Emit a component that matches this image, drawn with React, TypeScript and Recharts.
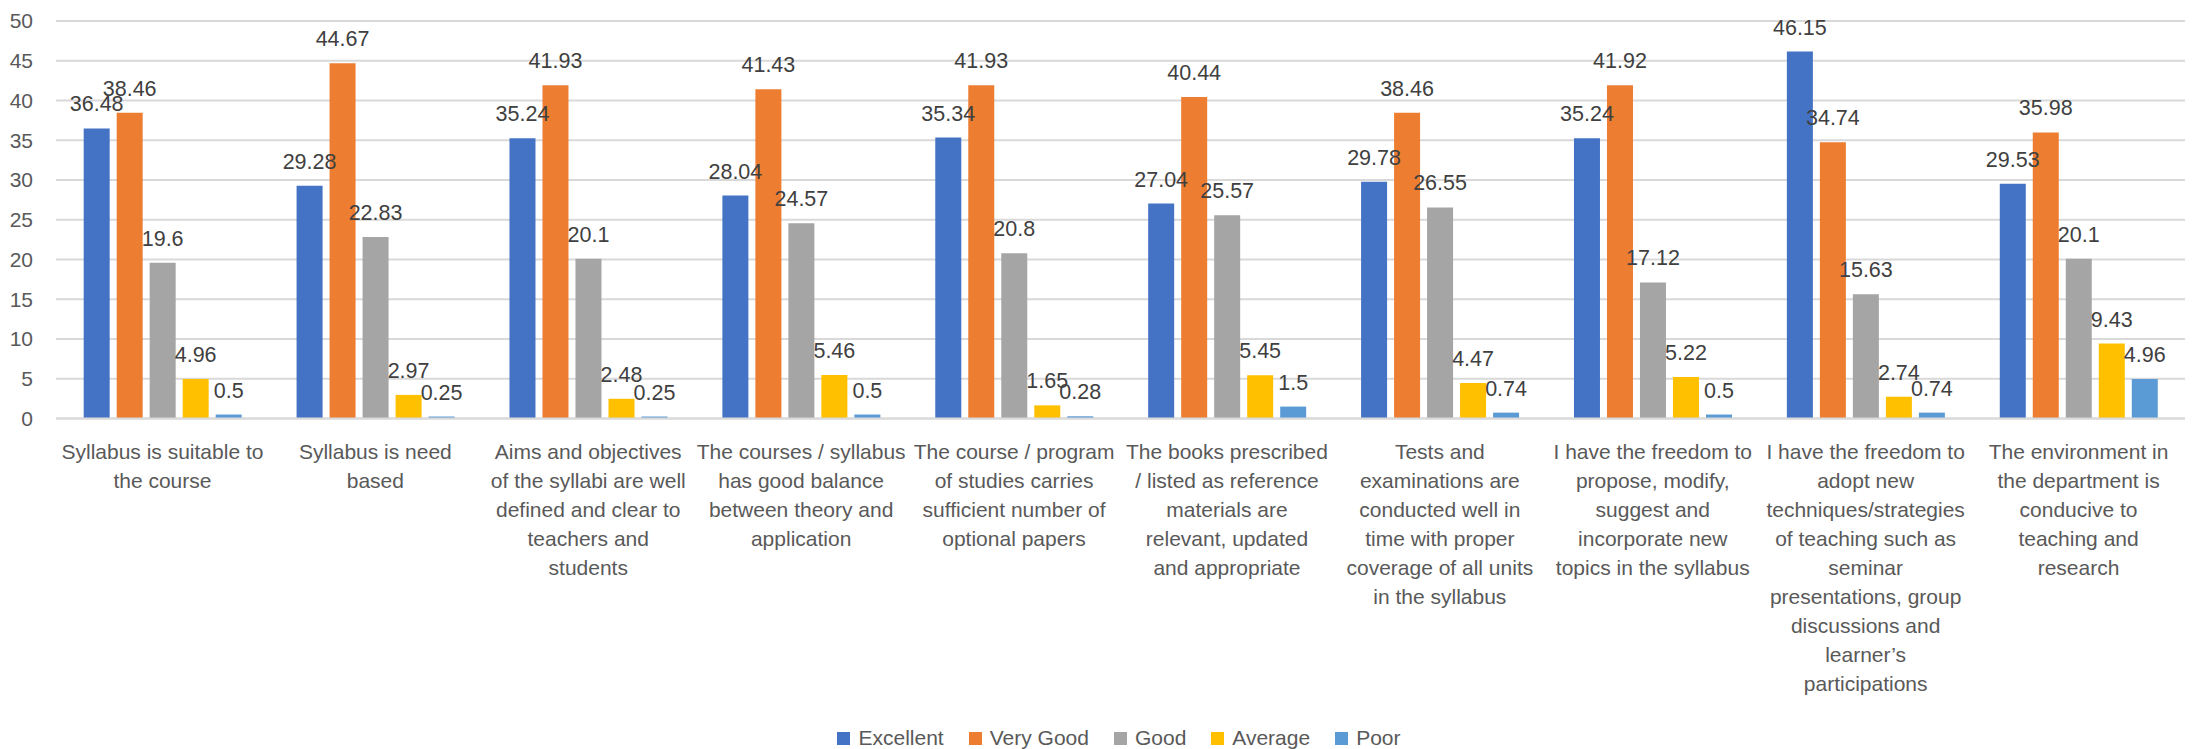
import { BarChart, Bar, XAxis, YAxis, CartesianGrid, LabelList, Legend } from 'recharts';

const FONT = '"Liberation Sans", Arial, sans-serif';
const FONT_SIZE = 21;
const AXIS_TEXT = '#595959';
const LABEL_TEXT = '#404040';
const GRID = '#d9d9d9';

// category labels, wrapped the same way as the source chart
const CATEGORIES = [
  'Syllabus is suitable to\nthe course',
  'Syllabus is need\nbased',
  'Aims and objectives\nof the syllabi are well\ndefined and clear to\nteachers and\nstudents',
  'The courses / syllabus\nhas good balance\nbetween theory and\napplication',
  'The course / program\nof studies carries\nsufficient number of\noptional papers',
  'The books prescribed\n/ listed as reference\nmaterials are\nrelevant, updated\nand appropriate',
  'Tests and\nexaminations are\nconducted well in\ntime with proper\ncoverage of all units\nin the syllabus',
  'I have the freedom to\npropose, modify,\nsuggest and\nincorporate new\ntopics in the syllabus',
  'I have the freedom to\nadopt new\ntechniques/strategies\nof teaching such as\nseminar\npresentations, group\ndiscussions and\nlearner\u2019s\nparticipations',
  'The environment in\nthe department is\nconducive to\nteaching and\nresearch',
];

const EXCELLENT = [36.48, 29.28, 35.24, 28.04, 35.34, 27.04, 29.78, 35.24, 46.15, 29.53];
const VERY_GOOD = [38.46, 44.67, 41.93, 41.43, 41.93, 40.44, 38.46, 41.92, 34.74, 35.98];
const GOOD = [19.6, 22.83, 20.1, 24.57, 20.8, 25.57, 26.55, 17.12, 15.63, 20.1];
const AVERAGE = [4.96, 2.97, 2.48, 5.46, 1.65, 5.45, 4.47, 5.22, 2.74, 9.43];
const POOR = [0.5, 0.25, 0.25, 0.5, 0.28, 1.5, 0.74, 0.5, 0.74, 4.96];

const Y_TICKS = [0, 5, 10, 15, 20, 25, 30, 35, 40, 45, 50];

const SERIES = [
  { key: 'Excellent', color: '#4472c4', values: EXCELLENT },
  { key: 'Very Good', color: '#ed7d31', values: VERY_GOOD },
  { key: 'Good', color: '#a5a5a5', values: GOOD },
  { key: 'Average', color: '#ffc000', values: AVERAGE },
  { key: 'Poor', color: '#5b9bd5', values: POOR },
];

const data = CATEGORIES.map((category, i) => {
  const row: Record<string, string | number> = { category };
  SERIES.forEach((s) => {
    row[s.key] = s.values[i];
  });
  return row;
});

function CategoryTick({ x, y, payload }: any) {
  const lines = String(payload.value).split('\n');
  return (
    <text x={x} y={y} textAnchor="middle" fill={AXIS_TEXT} fontSize={FONT_SIZE} fontFamily={FONT}>
      {lines.map((line, i) => (
        <tspan key={i} x={x} dy={i === 0 ? 40 : 29}>
          {line}
        </tspan>
      ))}
    </text>
  );
}

function LegendContent() {
  return (
    <div
      style={{
        display: 'flex',
        justifyContent: 'center',
        gap: 25,
        height: 30,
        boxSizing: 'border-box',
        paddingTop: 8,
        paddingLeft: 45,
        lineHeight: '22px',
        fontFamily: FONT,
        fontSize: FONT_SIZE,
        color: AXIS_TEXT,
      }}
    >
      {SERIES.map((s) => (
        <span key={s.key} style={{ display: 'inline-flex', alignItems: 'center' }}>
          <span style={{ width: 13, height: 13, background: s.color, marginRight: 8, display: 'inline-block' }} />
          {s.key}
        </span>
      ))}
    </div>
  );
}

export default function App() {
  return (
    <div style={{ position: 'absolute', left: 0, top: 0, width: 2193, height: 749, background: '#fff', fontFamily: FONT }}>
      <BarChart
        width={2193}
        height={749}
        data={data}
        margin={{ top: 21, right: 8, bottom: 0, left: 0 }}
        barCategoryGap="13%"
        barGap={7}
      >
        <CartesianGrid vertical={false} stroke={GRID} strokeWidth={2} />
        <XAxis
          dataKey="category"
          interval={0}
          tickLine={false}
          tickSize={0}
          tickMargin={0}
          height={300.5}
          axisLine={{ stroke: GRID, strokeWidth: 2 }}
          tick={<CategoryTick />}
        />
        <YAxis
          domain={[0, 50]}
          ticks={Y_TICKS}
          width={56}
          axisLine={false}
          tickLine={false}
          tickSize={0}
          tickMargin={23}
          tick={{ fill: AXIS_TEXT, fontSize: FONT_SIZE, fontFamily: FONT }}
        />
        <Legend
          verticalAlign="bottom"
          height={30}
          wrapperStyle={{ left: 0, width: 2193, height: 30 }}
          content={<LegendContent />}
        />
        {SERIES.map((s) => (
          <Bar key={s.key} dataKey={s.key} fill={s.color} isAnimationActive={false}>
            <LabelList
              dataKey={s.key}
              position="top"
              offset={17}
              fill={LABEL_TEXT}
              fontSize={21.5}
              fontFamily={FONT}
            />
          </Bar>
        ))}
      </BarChart>
    </div>
  );
}
